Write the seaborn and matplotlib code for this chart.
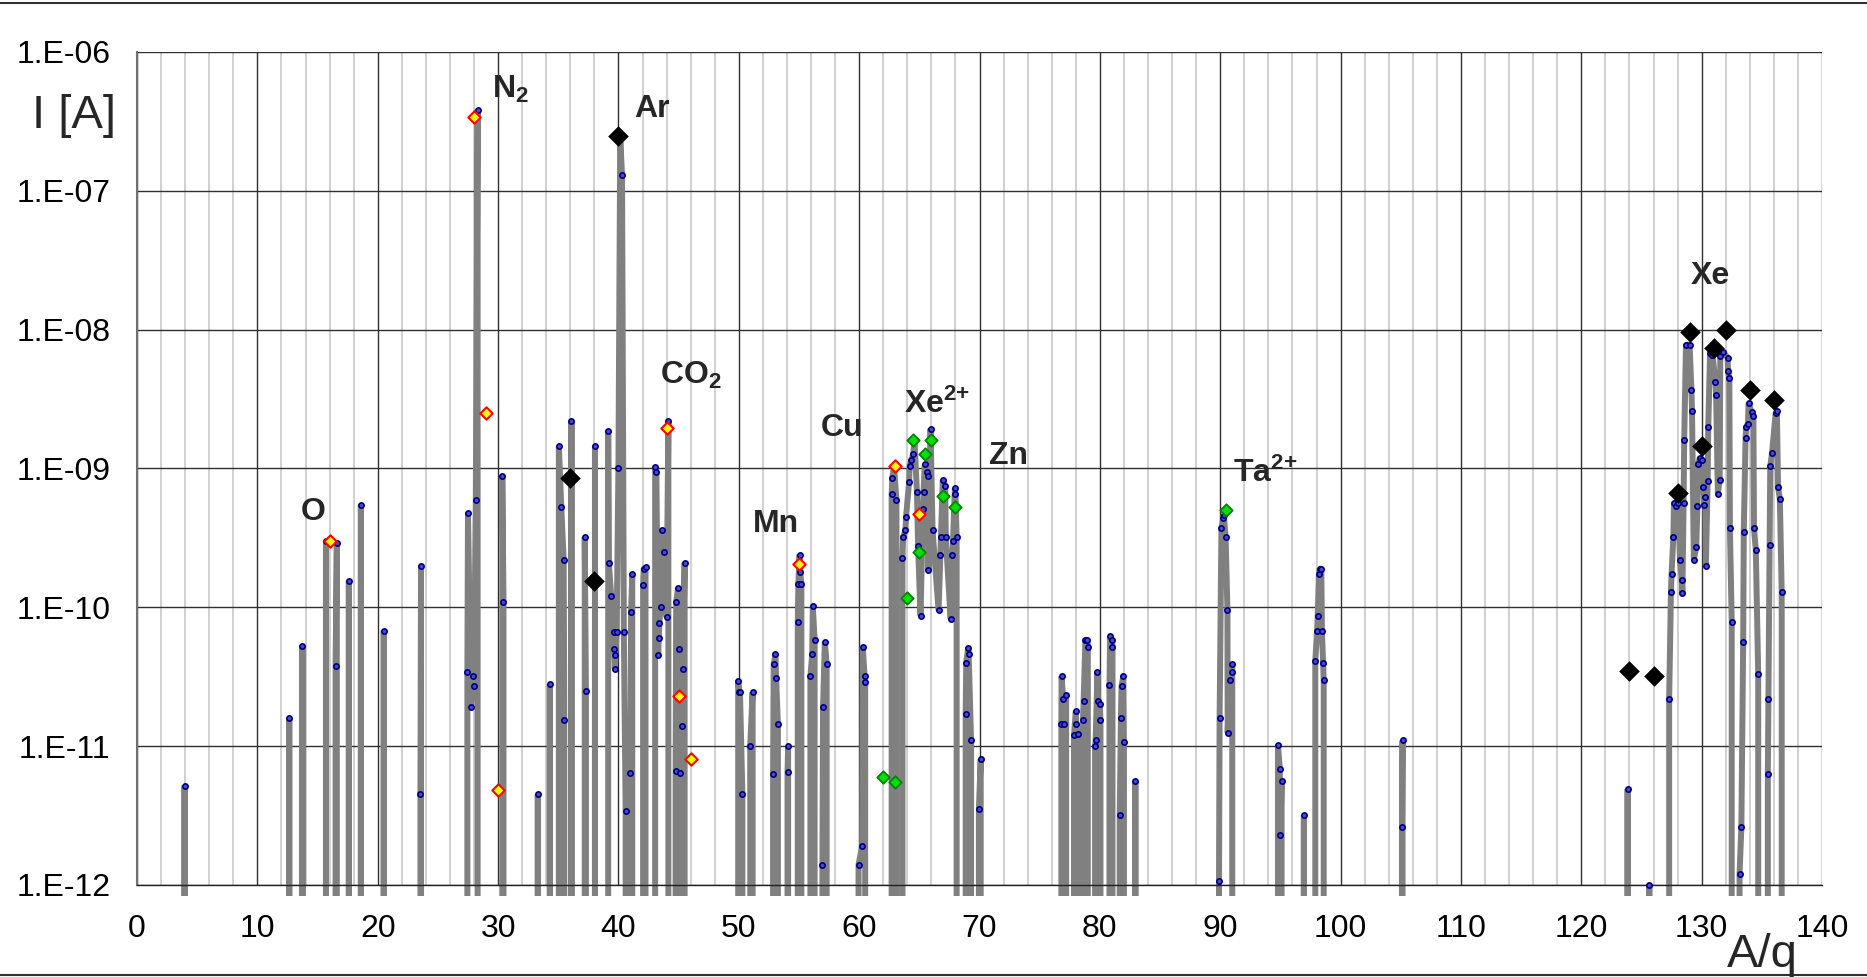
# -*- coding: utf-8 -*-
# ion current spectrum I(A/q), log scale, Excel-like look
import numpy as np
import pandas as pd
import matplotlib
matplotlib.use("Agg")
import matplotlib.pyplot as plt
from matplotlib.ticker import MultipleLocator, FixedLocator, FuncFormatter, NullLocator
from matplotlib.lines import Line2D
from matplotlib.patches import Rectangle
import seaborn as sns

BELOW = 1e-13  # signal under the plotted range (line drops out of the plot)

# spectrum, one inner list per peak group (line falls below range between groups)
aq_light = [
    [3.95], [12.65], [13.75], [15.7], [16.5, 16.6], [17.6], [18.6], [20.5], [23.55, 23.6],
    [27.45, 27.5, 27.75, 27.95, 28.0, 28.15, 28.3],
    [30.35, 30.45], [33.3], [34.3], [35.05, 35.25, 35.45, 35.5], [36.1], [37.2, 37.3], [38.05],
    [39.15, 39.2, 39.4, 39.6, 39.65, 39.7, 39.75, 39.85, 40.0, 40.15, 40.3, 40.45, 40.6],
    [41.0, 41.05, 41.15], [42.05, 42.1, 42.25],
    [43.05, 43.15, 43.3, 43.35, 43.4, 43.5, 43.65, 43.75, 44.0, 44.15],
    [44.75, 44.8, 44.95, 45.05, 45.15], [45.3, 45.35, 45.5],
]
i_light = [
    [5.2e-12], [1.6e-11], [5.3e-11], [3.0e-10], [3.8e-11, 2.9e-10], [1.55e-10], [5.5e-10], [6.8e-11], [4.5e-12, 2.0e-10],
    [3.4e-11, 4.8e-10, 1.9e-11, 3.2e-11, 2.7e-11, 5.9e-10, 3.85e-7],
    [8.9e-10, 1.1e-10], [4.5e-12], [2.8e-11], [1.45e-9, 5.3e-10, 2.2e-10, 1.55e-11], [2.2e-9], [3.2e-10, 2.5e-11], [1.45e-9],
    [1.87e-9, 2.1e-10, 1.2e-10, 6.6e-11, 5.0e-11, 3.6e-11, 4.5e-11, 6.6e-11, 1.0e-9, 2.4e-7, 1.3e-7, 6.6e-11, 3.4e-12],
    [6.4e-12, 9.3e-11, 1.75e-10], [1.45e-10, 1.9e-10, 1.95e-10],
    [1.03e-9, 9.5e-10, 4.5e-11, 6.0e-11, 7.7e-11, 1.0e-10, 3.6e-10, 2.5e-10, 8.5e-11, 2.2e-9],
    [6.6e-12, 1.1e-10, 1.37e-10, 5.0e-11, 6.4e-12], [1.4e-11, 3.6e-11, 2.1e-10],
]

aq_metal = [
    [49.95, 50.05, 50.1, 50.3], [50.95, 51.15], [52.85, 52.9, 53.05, 53.1, 53.25], [54.05, 54.1],
    [54.9, 54.95, 55.05, 55.1, 55.2], [55.95, 56.1, 56.15, 56.3], [56.95, 57.0, 57.15, 57.3],
    [59.95, 60.25, 60.3, 60.45, 60.5], [62.7, 62.75, 62.9, 63.1],
    [63.6, 63.65, 63.85, 63.9, 64.15, 64.2, 64.35, 64.5, 64.6, 64.8, 64.9, 65.1, 65.3, 65.35, 65.45,
     65.6, 65.7, 65.76, 65.93, 66.1, 66.6, 66.75, 66.8, 66.95, 67.15, 67.2, 67.6, 67.75, 67.8, 67.95,
     68.0, 68.1],
    [68.85, 68.9, 69.05, 69.1, 69.3], [69.95, 70.1],
]
i_metal = [
    [2.95e-11, 2.45e-11, 2.45e-11, 4.5e-12], [1.0e-11, 2.45e-11], [6.3e-12, 3.9e-11, 4.6e-11, 3.1e-11, 1.45e-11], [6.5e-12, 1.0e-11],
    [7.8e-11, 1.47e-10, 2.4e-10, 1.8e-10, 1.47e-10], [3.2e-11, 4.6e-11, 1.02e-10, 5.8e-11], [1.4e-12, 1.9e-11, 5.6e-11, 3.9e-11],
    [1.4e-12, 1.9e-12, 5.2e-11, 3.2e-11, 2.9e-11], [6.5e-10, 8.5e-10, 1.04e-9, 5.9e-10],
    [2.25e-10, 3.2e-10, 3.6e-10, 4.5e-10, 8.0e-10, 1.05e-9, 1.15e-9, 1.28e-9, 1.6e-9, 6.8e-10, 2.75e-10, 8.7e-11, 5.1e-10, 6.8e-10, 1.07e-9,
     9.5e-10, 8.8e-10, 1.85e-10, 1.94e-9, 3.6e-10, 9.5e-11, 2.4e-10, 3.2e-10, 8.3e-10, 7.5e-10, 3.2e-10, 8.3e-11, 2.4e-10, 3.0e-10, 7.2e-10,
     6.5e-10, 3.2e-10],
    [1.7e-11, 4.0e-11, 5.1e-11, 4.6e-11, 1.1e-11], [3.5e-12, 8.1e-12],
]

aq_heavy = [
    [76.8, 76.82, 76.95, 77.0, 77.2], [77.85, 78.0, 78.05, 78.15], [78.6, 78.65, 78.8, 78.95, 79.0],
    [79.6, 79.65, 79.8, 79.85, 80.0, 80.05], [80.8, 80.85, 81.0, 81.05], [81.65, 81.75, 81.8, 81.95, 82.0], [82.95],
    [89.9, 89.95, 90.1, 90.25, 90.3, 90.45, 90.6, 90.62, 90.8, 90.95, 91.0],
    [94.8, 94.95, 95.0, 95.1], [96.95], [97.9, 98.05, 98.1, 98.2, 98.25, 98.4, 98.45, 98.55, 98.6], [105.1, 105.15],
]
i_heavy = [
    [1.45e-11, 3.2e-11, 2.2e-11, 1.45e-11, 2.35e-11], [1.2e-11, 1.78e-11, 1.45e-11, 1.23e-11], [1.55e-11, 2.1e-11, 5.8e-11, 5.8e-11, 5.2e-11],
    [1.0e-11, 1.1e-11, 3.4e-11, 2.1e-11, 2.0e-11, 1.55e-11], [2.75e-11, 6.2e-11, 5.8e-11, 5.2e-11], [3.2e-12, 1.6e-11, 2.7e-11, 3.2e-11, 1.07e-11], [5.6e-12],
    [1.07e-12, 1.6e-11, 3.7e-10, 4.4e-10, 4.6e-10, 3.2e-10, 9.5e-11, 1.25e-11, 3.0e-11, 3.4e-11, 3.9e-11],
    [1.02e-11, 6.9e-12, 2.3e-12, 5.6e-12], [3.2e-12], [4.1e-11, 6.8e-11, 8.6e-11, 1.73e-10, 1.9e-10, 1.9e-10, 6.8e-11, 4.0e-11, 3.0e-11], [2.6e-12, 1.1e-11],
]

aq_xenon = [
    [123.85], [125.65],
    [127.3, 127.45, 127.5, 127.65, 127.7, 127.85, 128.05, 128.2, 128.35, 128.4, 128.5, 128.55, 128.7, 129.0, 129.15,
     129.2, 129.35, 129.55, 129.65, 129.7, 129.85, 130.0, 130.15, 130.2, 130.3, 130.35, 130.5, 130.55, 130.7, 130.9,
     131.15, 131.2, 131.35, 131.5, 131.55, 131.8, 132.15, 132.2, 132.3, 132.35, 132.5],
    [133.15, 133.3, 133.45, 133.5, 133.65, 133.7, 133.85, 133.9, 134.15, 134.3, 134.35, 134.5, 134.7],
    [135.5, 135.55, 135.65, 135.7, 135.85, 136.15, 136.25, 136.35, 136.5, 136.65],
]
i_xenon = [
    [4.9e-12], [1.0e-12],
    [2.2e-11, 1.3e-10, 1.74e-10, 3.2e-10, 5.6e-10, 5.4e-10, 5.6e-10, 2.2e-10, 1.57e-10, 1.27e-10, 5.6e-10, 1.6e-9, 7.8e-9, 7.8e-9, 3.7e-9,
     2.6e-9, 2.2e-10, 2.7e-10, 5.4e-10, 1.07e-9, 1.2e-9, 1.15e-9, 7.4e-10, 5.5e-10, 6.2e-10, 2.0e-10, 8.1e-10, 2.0e-9, 6.75e-9, 6.6e-9,
     4.2e-9, 3.4e-9, 6.6e-10, 8.3e-10, 6.5e-9, 6.9e-9, 6.3e-9, 5.0e-9, 4.5e-9, 3.7e-10, 7.8e-11],
    [1.2e-12, 2.6e-12, 5.6e-11, 3.5e-10, 1.67e-9, 2.0e-9, 2.1e-9, 2.95e-9, 2.55e-9, 2.4e-9, 3.7e-10, 2.6e-10, 3.3e-11],
    [6.3e-12, 2.2e-11, 2.8e-10, 1.04e-9, 1.3e-9, 2.5e-9, 2.6e-9, 7.4e-10, 6.0e-10, 1.3e-10],
]

# marked lines
black_aq = [36, 38, 40, 124, 126, 128, 129, 130, 131, 132, 134, 136]
black_i = [8.5e-10, 1.55e-10, 2.5e-7, 3.5e-11, 3.2e-11, 6.7e-10, 9.6e-9, 1.46e-9, 7.4e-9, 1.0e-8, 3.7e-9, 3.1e-9]
yellow_aq = [16, 28, 29, 30, 44, 45, 46, 55, 63, 65]
yellow_i = [3.0e-10, 3.4e-7, 2.5e-9, 4.8e-12, 1.95e-9, 2.3e-11, 8.1e-12, 2.04e-10, 1.04e-9, 4.7e-10]
green_aq = [62, 63, 64, 64.5, 65, 65.5, 66, 67, 68, 90.5]
green_i = [6.0e-12, 5.5e-12, 1.16e-10, 1.6e-9, 2.5e-10, 1.28e-9, 1.6e-9, 6.3e-10, 5.3e-10, 5.0e-10]

# peak labels
label_text = ["O", "N$_2$", "Ar", "CO$_2$", "Mn", "Cu", "Xe$^{2{+}}$", "Zn", "Ta$^{2{+}}$", "Xe"]
label_aq = [14.6, 31.0, 42.8, 46.0, 53.1, 58.6, 66.5, 72.4, 93.7, 130.7]
label_i = [4.9e-10, 5.4e-7, 3.9e-7, 4.7e-9, 4.0e-10, 1.95e-9, 2.9e-9, 1.23e-9, 9.3e-10, 2.45e-8]

y_ticks = [1e-12, 1e-11, 1e-10, 1e-9, 1e-8, 1e-7, 1e-6]


def build_trace(groups_x, groups_y):
    """Chain the peak groups, dropping the line below range between them"""
    xs, ys = [], []
    for gx, gy in zip(groups_x, groups_y):
        xs += [gx[0]] + gx + [gx[-1]]
        ys += [BELOW] + gy + [BELOW]
    return xs, ys


all_x, all_y = [], []
for gx, gy in [(aq_light, i_light), (aq_metal, i_metal), (aq_heavy, i_heavy), (aq_xenon, i_xenon)]:
    tx, ty = build_trace(gx, gy)
    all_x += tx
    all_y += ty
spectrum = pd.DataFrame({"A/q": all_x, "I": all_y})
points = spectrum[spectrum["I"] > BELOW]

sns.set_style("white")
plt.rcParams["font.family"] = ["Liberation Sans", "DejaVu Sans"]
plt.rcParams["mathtext.fontset"] = "custom"
plt.rcParams["mathtext.rm"] = "Liberation Sans:bold"
plt.rcParams["mathtext.it"] = "Liberation Sans:bold"
plt.rcParams["mathtext.bf"] = "Liberation Sans:bold"

W, H = 1867, 977
fig = plt.figure(figsize=(W / 100, H / 100), dpi=100)
ax = fig.add_axes([137 / W, 92 / H, (1822 - 137) / W, (885 - 52) / H])
ax.set_yscale("log")

# lines may run a little under the x axis like in the original
clip = Rectangle((0, -0.013), 1, 1.013, transform=ax.transAxes, fill=False)

sns.lineplot(data=spectrum, x="A/q", y="I", sort=False, estimator=None,
             color="#808080", linewidth=4.3, ax=ax, zorder=2)
ln = ax.lines[-1]
ln.set_solid_joinstyle("bevel")
ln.set_solid_capstyle("butt")
ln.set_clip_path(clip)

sns.scatterplot(data=points, x="A/q", y="I", marker="o", s=3.8 ** 2, color="#4a4acc",
                edgecolor="#000080", linewidth=1.2, ax=ax, zorder=3)
ax.collections[-1].set_clip_path(clip)

sns.scatterplot(x=black_aq, y=black_i, marker="D", s=10.5 ** 2, color="black",
                edgecolor="black", linewidth=0, ax=ax, zorder=5)
sns.scatterplot(x=yellow_aq, y=yellow_i, marker="D", s=6.3 ** 2, color="#ffff00",
                edgecolor="#ff0000", linewidth=1.5, ax=ax, zorder=4)
sns.scatterplot(x=green_aq, y=green_i, marker="D", s=6.3 ** 2, color="#00e000",
                edgecolor="#008000", linewidth=1.3, ax=ax, zorder=4)

for txt, lx, ly in zip(label_text, label_aq, label_i):
    ax.text(lx, ly, txt, fontsize=23, fontweight="bold", ha="center", va="center", zorder=6)

ax.set_xlim(0, 140)
ax.set_ylim(1e-12, 1e-6)
ax.xaxis.set_major_locator(MultipleLocator(10))
ax.xaxis.set_minor_locator(MultipleLocator(2))
ax.yaxis.set_major_locator(FixedLocator(y_ticks))
ax.yaxis.set_minor_locator(NullLocator())
ax.yaxis.set_major_formatter(FuncFormatter(lambda v, p: "1.E-%02d" % int(round(-np.log10(v)))))
ax.xaxis.set_major_formatter(FuncFormatter(lambda v, p: "%d" % v))

ax.set_axisbelow(True)
ax.grid(which="minor", axis="x", color="#c8c8c8", linewidth=1.2)
ax.grid(which="major", axis="both", color="#303030", linewidth=1.0)
ax.tick_params(axis="both", which="major", direction="out", length=7, width=1,
               color="black", labelsize=23, labelcolor="black")
ax.tick_params(axis="x", which="major", pad=14)
ax.tick_params(axis="y", which="major", pad=12)
ax.tick_params(which="minor", length=0)
for side in ["top", "right"]:
    ax.spines[side].set_visible(False)
ax.spines["left"].set_color("#707070")
ax.spines["left"].set_linewidth(1.5)
ax.spines["bottom"].set_color("#202020")
ax.spines["bottom"].set_linewidth(1.0)
ax.set_xlabel("")
ax.set_ylabel("")

fig.text(32 / W, 1 - 116 / H, "I [A]", fontsize=34, ha="left", va="center")
fig.text(1727 / W, 1 - 967 / H, "A/q", fontsize=34, ha="left", va="baseline")

# thin frame lines at top and bottom of the picture
fig.add_artist(Line2D([0, 1], [1 - 3 / H, 1 - 3 / H], color="#303030", linewidth=1.5, transform=fig.transFigure))
fig.add_artist(Line2D([0, 1], [2 / H, 2 / H], color="#303030", linewidth=1.5, transform=fig.transFigure))

fig.savefig("out.png", dpi=100)
